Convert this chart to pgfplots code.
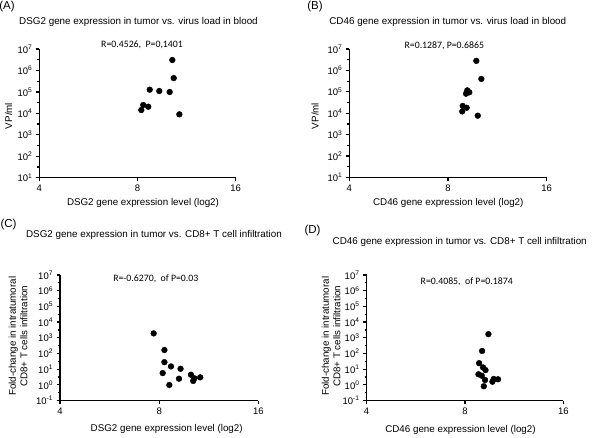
\documentclass[border=0pt]{standalone}
\usepackage{fontspec}
\setmainfont{Liberation Sans}
\newfontfamily\calib{Carlito}
\usepackage{pgfplots}
\pgfplotsset{compat=1.18}

\pgfplotsset{
  myax/.style={
    scale only axis,
    anchor=south west,
    log basis x=2,
    xmin=4, xmax=16,
    xtick={4,8,16}, xticklabels={4,8,16},
    axis x line*=bottom, axis y line*=left,
    axis line style={line width=1.3pt, black},
    tick style={line width=1.2pt, black},
    major tick length=3.5pt,
    tick align=outside,
    minor tick length=2pt,
    tick label style={font=\fontsize{9.5}{10}\selectfont},
    clip=false,
  },
  mydots/.style={only marks, mark=*, mark size=2.9pt, black, mark options={fill=black, draw=black}},
  yA/.style={ymin=10, ymax=1e7,
    ytick={10,100,1000,1e4,1e5,1e6,1e7},
    minor ytick={31.62,316.2,3162,31623,316228,3162278},
    yticklabels={10\textsuperscript{1},10\textsuperscript{2},10\textsuperscript{3},10\textsuperscript{4},10\textsuperscript{5},10\textsuperscript{6},10\textsuperscript{7}}},
  yC/.style={ymin=0.1, ymax=1e7,
    ytick={0.1,1,10,100,1000,1e4,1e5,1e6,1e7},
    minor ytick={0.3162,3.162,31.62,316.2,3162,31623,316228,3162278},
    yticklabels={10\textsuperscript{-1},10\textsuperscript{0},10\textsuperscript{1},10\textsuperscript{2},10\textsuperscript{3},10\textsuperscript{4},10\textsuperscript{5},10\textsuperscript{6},10\textsuperscript{7}}},
}

\begin{document}
\begin{tikzpicture}
\useasboundingbox (0pt,0pt) rectangle (600pt,-437pt);

% ---------- Panel A ----------
\begin{loglogaxis}[myax, yA, at={(39.3pt,-177.7pt)}, width=196.4pt, height=128.7pt]
\addplot[mydots] coordinates {
(10.23,3.07e6) (10.33,4.4e5) (8.72,1.27e5) (9.33,1.1e5) (10.04,9.9e4)
(8.33,2.45e4) (8.63,2.04e4) (8.22,1.43e4) (10.75,9.0e3)};
\end{loglogaxis}
\node[font=\fontsize{11.5}{12}\selectfont] at (7pt,-7pt) {(A)};
\node[font=\fontsize{9.85}{11}\selectfont] at (138.5pt,-21.7pt) {DSG2 gene expression in tumor vs. virus load in blood};
\node[font=\calib\fontsize{9.8}{11}\selectfont] at (142pt,-45pt) {R=0.4526,\ \ P=0,1401};
\node[font=\fontsize{9.8}{11}\selectfont] at (143pt,-203.3pt) {DSG2 gene expression level (log2)};
\node[font=\fontsize{9.8}{11}\selectfont, rotate=90] at (8.5pt,-116pt) {VP/ml};

% ---------- Panel B ----------
\begin{loglogaxis}[myax, yA, at={(349.3pt,-177.5pt)}, width=197.4pt, height=128.5pt]
\addplot[mydots] coordinates {
(9.76,2.8e6) (10.11,4.0e5) (9.08,8.2e4) (9.16,1.17e5) (9.29,9.5e4)
(8.87,2.2e4) (9.12,1.8e4) (8.84,1.22e4) (9.86,7.7e3)};
\end{loglogaxis}
\node[font=\fontsize{11.5}{12}\selectfont] at (315pt,-7pt) {(B)};
\node[font=\fontsize{9.85}{11}\selectfont] at (447.8pt,-21.7pt) {CD46 gene expression in tumor vs. virus load in blood};
\node[font=\calib\fontsize{9.8}{11}\selectfont] at (444.3pt,-46pt) {R=0.1287, P=0.6865};
\node[font=\fontsize{9.8}{11}\selectfont] at (448.3pt,-203.3pt) {CD46 gene expression level (log2)};
\node[font=\fontsize{9.8}{11}\selectfont, rotate=90] at (315pt,-116pt) {VP/ml};

% ---------- Panel C ----------
\begin{loglogaxis}[myax, yC, at={(60pt,-400.5pt)}, width=198.3pt, height=125.5pt]
\addplot[mydots] coordinates {
(7.70,1.9e3) (8.30,166) (8.30,27.8) (8.69,14.9) (9.29,10.5) (8.20,5.6)
(9.99,4.4) (10.66,3.0) (10.24,2.6) (10.15,1.76) (9.19,2.45) (8.59,0.98)};
\end{loglogaxis}
\node[font=\fontsize{11.5}{12}\selectfont] at (8.5pt,-225pt) {(C)};
\node[font=\fontsize{9.85}{11}\selectfont] at (154pt,-234.7pt) {DSG2 gene expression in tumor vs. CD8+ T cell infiltration};
\node[font=\calib\fontsize{9.8}{11}\selectfont] at (155.8pt,-279pt) {R=-0.6270,\ \ of P=0.03};
\node[font=\fontsize{9.8}{11}\selectfont] at (166.7pt,-428.7pt) {DSG2 gene expression level (log2)};
\node[font=\fontsize{9.8}{11.5}\selectfont, rotate=90, align=center] at (18pt,-336.3pt) {Fold-change in intratumoral\\CD8+ T cells infiltration};

% ---------- Panel D ----------
\begin{loglogaxis}[myax, yC, at={(366.5pt,-400.5pt)}, width=196.8pt, height=125.5pt]
\addplot[mydots] coordinates {
(9.44,1.7e3) (9.03,144) (8.84,24) (9.09,12.9) (9.25,8.7) (8.80,4.7)
(9.01,3.8) (9.22,2.03) (9.71,1.58) (9.80,2.35) (10.10,2.25) (9.14,0.81)};
\end{loglogaxis}
\node[font=\fontsize{11.5}{12}\selectfont] at (312.5pt,-231pt) {(D)};
\node[font=\fontsize{9.85}{11}\selectfont] at (459.7pt,-242.3pt) {CD46 gene expression in tumor vs. CD8+ T cell infiltration};
\node[font=\calib\fontsize{9.8}{11}\selectfont] at (466.7pt,-281.3pt) {R=0.4085,\ \ of P=0.1874};
\node[font=\fontsize{9.8}{11}\selectfont] at (460.5pt,-429.7pt) {CD46 gene expression level (log2)};
\node[font=\fontsize{9.8}{11.5}\selectfont, rotate=90, align=center] at (331pt,-336.3pt) {Fold-change in intratumoral\\CD8+ T cells infiltration};
\end{tikzpicture}
\end{document}
